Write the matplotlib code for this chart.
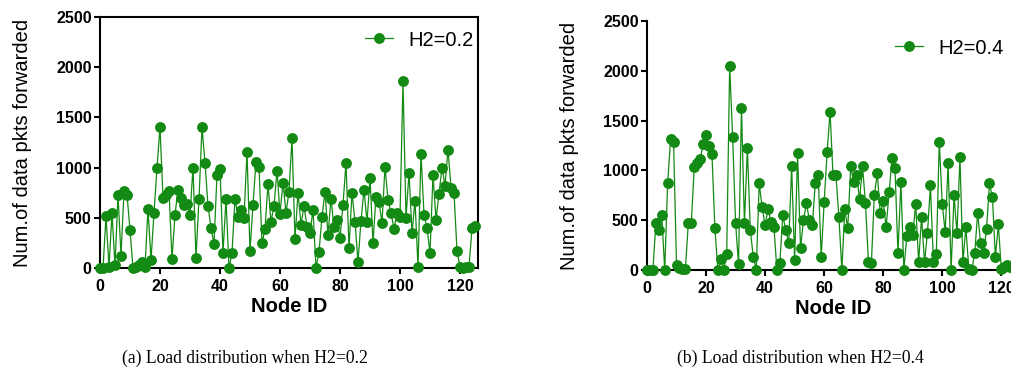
import numpy as np
import matplotlib
matplotlib.use("Agg")
import matplotlib.pyplot as plt

plt.rcParams['font.family'] = ['Liberation Sans', 'DejaVu Sans']

node_ids = np.arange(126)

pkts_h02 = [0, 0, 513, 10, 547, 30, 730, 123, 763, 730,
            380, 0, 10, 30, 60, 10, 590, 80, 550, 1000,
            1400, 700, 730, 770, 90, 530, 780, 700, 630, 640,
            530, 1000, 100, 690, 1400, 1050, 620, 400, 240, 930,
            990, 150, 690, 0, 150, 690, 510, 580, 500, 1160,
            170, 630, 1060, 1010, 250, 390, 840, 460, 620, 970,
            540, 850, 550, 760, 1290, 290, 750, 430, 620, 410,
            350, 580, 0, 160, 510, 760, 330, 690, 410, 480,
            300, 630, 1050, 200, 750, 460, 60, 470, 780, 460,
            900, 250, 710, 660, 450, 1010, 680, 550, 390, 550,
            510, 1860, 500, 950, 350, 670, 10, 1140, 530, 400,
            150, 930, 480, 740, 1000, 820, 1180, 800, 750, 170,
            10, 0, 10, 10, 400, 420]

pkts_h04 = [0, 0, 0, 470, 400, 550, 0, 870, 1320, 1290,
            50, 20, 10, 10, 470, 470, 1030, 1070, 1110, 1270,
            1360, 1250, 1160, 420, 0, 110, 0, 160, 2050, 1340,
            470, 60, 1630, 470, 1220, 400, 130, 0, 870, 630,
            450, 610, 480, 430, 0, 70, 550, 400, 270, 1040,
            100, 1170, 220, 500, 670, 500, 450, 870, 950, 130,
            680, 1180, 1590, 950, 950, 530, 0, 610, 420, 1040,
            880, 950, 710, 1040, 670, 80, 70, 750, 970, 570,
            690, 430, 780, 1120, 1020, 170, 880, 0, 340, 430,
            350, 660, 80, 530, 80, 370, 850, 80, 160, 1290,
            660, 380, 1070, 0, 750, 370, 1130, 80, 430, 10,
            0, 170, 570, 270, 170, 410, 870, 730, 130, 460,
            10, 30, 50, 30, 20, 10]

GREEN = '#138a13'
W, H = 1012, 385


def draw_panel(fig, rect, values, label, legend_xy, boxed, ylabel_pad):
    ax = fig.add_axes(rect)
    ax.plot(node_ids, values, color=GREEN, lw=0.9, marker='o', ms=6.8,
            mec=GREEN, mfc=GREEN, label=label, clip_on=False, zorder=3)
    ax.set_xlim(0, 126)
    ax.set_ylim(0, 2500)
    ax.set_xticks(range(0, 121, 20))
    ax.set_yticks(range(0, 2501, 500))
    for side in ['left', 'bottom', 'top', 'right']:
        ax.spines[side].set_linewidth(1.5)
    if not boxed:
        ax.spines['top'].set_visible(False)
        ax.spines['right'].set_visible(False)
    ax.tick_params(direction='out', length=4, width=1.5, pad=2,
                   labelsize=11.5, top=False, right=False)
    ax.tick_params(axis='x', pad=4)
    for t in ax.get_xticklabels() + ax.get_yticklabels():
        t.set_fontweight('bold')
    ax.set_xlabel('Node ID', fontsize=14.5, fontweight='bold', labelpad=2)
    ax.set_ylabel('Num.of data pkts forwarded', fontsize=14.5,
                  labelpad=ylabel_pad)
    ax.legend(loc='center left', frameon=False, fontsize=14.5,
              handlelength=1.4, handletextpad=0.75, borderpad=0,
              borderaxespad=0,
              bbox_to_anchor=(legend_xy[0] / W, 1 - legend_xy[1] / H),
              bbox_transform=fig.transFigure)
    return ax


fig = plt.figure(figsize=(W / 100, H / 100), dpi=100)

ax_a = draw_panel(fig, [100 / W, (H - 268) / H, 378 / W, 251 / H],
                  pkts_h02, 'H2=0.2', (365, 40), True, 17)
ax_b = draw_panel(fig, [647 / W, (H - 270) / H, 372 / W, 249 / H],
                  pkts_h04, 'H2=0.4', (895, 48), False, 17)

fig.text(245 / W, 1 - 358 / H, '(a) Load distribution when H2=0.2',
         ha='center', va='center', fontsize=12.7, family='Liberation Serif')
fig.text(800 / W, 1 - 358 / H, '(b) Load distribution when H2=0.4',
         ha='center', va='center', fontsize=12.7, family='Liberation Serif')

fig.savefig('out.png', dpi=100)
